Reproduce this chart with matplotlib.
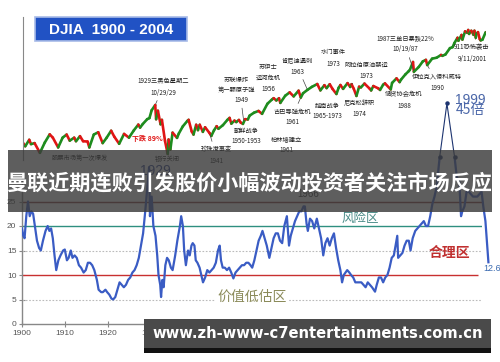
import numpy as np
import matplotlib
matplotlib.use("Agg")
import matplotlib.pyplot as plt
from matplotlib.collections import LineCollection
from matplotlib.patches import Rectangle

plt.rcParams['font.family'] = ['Noto Sans CJK SC', 'DejaVu Sans']

W, H = 500, 362

# DJIA price path (approx. swing highs / lows)
dj_years = [1900.0, 1900.5, 1901.4, 1901.8, 1902.6, 1903.8, 1904.9, 1906.0, 1906.7, 1907.9,
            1908.9, 1909.8, 1910.5, 1911.5, 1911.9, 1912.8, 1913.5, 1914.5, 1914.9, 1915.9,
            1916.9, 1917.9, 1918.8, 1919.8, 1920.5, 1921.6, 1922.7, 1923.8, 1924.9, 1925.9,
            1926.3, 1926.9, 1927.9, 1928.4, 1928.9, 1929.7, 1929.9, 1930.3, 1930.9, 1931.2,
            1931.9, 1932.5, 1932.7, 1933.1, 1933.6, 1934.6, 1935.0, 1935.9, 1936.9, 1937.2,
            1937.9, 1938.3, 1938.9, 1939.3, 1939.7, 1940.4, 1940.9, 1941.9, 1942.3, 1942.9,
            1943.5, 1943.9, 1944.9, 1945.9, 1946.4, 1946.8, 1947.5, 1947.9, 1948.5, 1948.9,
            1949.4, 1949.9, 1950.5, 1950.9, 1951.9, 1952.9, 1953.7, 1954.9, 1955.9, 1956.3,
            1956.9, 1957.5, 1957.8, 1958.9, 1959.9, 1960.8, 1961.9, 1962.4, 1962.9, 1963.9,
            1964.9, 1966.1, 1966.8, 1967.7, 1968.2, 1968.9, 1969.5, 1970.4, 1970.9, 1971.3,
            1971.9, 1972.9, 1973.5, 1973.8, 1974.3, 1974.9, 1975.5, 1975.9, 1976.7, 1977.9,
            1978.2, 1978.7, 1979.8, 1980.2, 1980.9, 1981.3, 1982.6, 1982.9, 1983.9, 1984.6,
            1984.9, 1985.9, 1986.6, 1986.9, 1987.6, 1987.8, 1988.9, 1989.8, 1990.5, 1990.8,
            1991.9, 1992.9, 1993.9, 1994.2, 1994.9, 1995.9, 1996.5, 1996.9, 1997.6, 1997.8,
            1998.5, 1998.7, 1999.3, 1999.8, 2000.0, 2000.2, 2000.7, 2001.2, 2001.4, 2001.7,
            2001.9, 2002.2, 2002.6, 2002.8, 2003.2, 2003.9, 2004.2, 2004.6, 2004.99]
dj_values = [68, 58, 78, 64, 67, 43, 69, 100, 86, 55,
             86, 99, 75, 86, 73, 92, 73, 72, 55, 99,
             110, 67, 86, 118, 90, 65, 102, 86, 120, 156,
             136, 160, 200, 210, 300, 381, 199, 294, 158, 194,
             74, 41, 79, 50, 108, 85, 104, 144, 184, 194,
             114, 99, 155, 121, 155, 112, 138, 106, 93, 120,
             145, 129, 152, 193, 212, 163, 187, 175, 193, 171,
             161, 200, 197, 235, 269, 291, 255, 404, 488, 521,
             470, 520, 420, 583, 679, 566, 734, 536, 652, 762,
             874, 995, 744, 943, 825, 985, 801, 631, 838, 950,
             797, 1036, 870, 987, 800, 577, 881, 852, 1014, 800,
             742, 907, 815, 759, 964, 1024, 777, 1046, 1287, 1086,
             1211, 1546, 1775, 1896, 2722, 1738, 2168, 2791, 2999, 2365,
             3168, 3301, 3754, 3600, 3834, 5117, 5350, 6448, 8222, 7161,
             9337, 7539, 11000, 10300, 11723, 9796, 11310, 9389, 11337, 8235,
             10021, 10635, 7702, 7286, 7524, 10453, 10737, 9749, 10783]

# price / earnings ratio, before and after the 1999 spike
pe_years = [1900.0, 1900.3, 1900.6, 1901.0, 1901.4, 1901.8, 1902.2, 1902.6, 1903.0, 1903.5,
            1904.0, 1904.4, 1904.9, 1905.5, 1906.0, 1906.4, 1906.8, 1907.2, 1907.6, 1908.0,
            1908.5, 1909.0, 1909.6, 1910.0, 1910.5, 1910.9, 1911.4, 1911.8, 1912.3, 1912.8,
            1913.3, 1913.8, 1914.4, 1914.9, 1915.4, 1915.9, 1916.4, 1916.9, 1917.5, 1917.9,
            1918.5, 1918.9, 1919.5, 1919.9, 1920.4, 1920.9, 1921.3, 1921.8, 1922.3, 1922.8,
            1923.3, 1923.8, 1924.3, 1924.8, 1925.3, 1925.8, 1926.3, 1926.8, 1927.3, 1927.8,
            1928.3, 1928.8, 1929.3, 1929.7, 1929.9, 1930.3, 1930.7, 1931.2, 1931.6, 1931.9,
            1932.3, 1932.5, 1932.8, 1933.1, 1933.5, 1933.9, 1934.3, 1934.8, 1935.2, 1935.8,
            1936.3, 1936.9, 1937.2, 1937.6, 1937.9, 1938.3, 1938.8, 1939.2, 1939.6, 1939.9,
            1940.3, 1940.6, 1941.0, 1941.5, 1941.9, 1942.3, 1942.8, 1943.3, 1943.8, 1944.3,
            1944.8, 1945.3, 1945.8, 1946.2, 1946.5, 1946.9, 1947.4, 1947.9, 1948.4, 1948.9,
            1949.4, 1949.9, 1950.4, 1950.9, 1951.4, 1951.9, 1952.4, 1952.9, 1953.4, 1953.8,
            1954.3, 1954.8, 1955.3, 1955.8, 1956.2, 1956.7, 1957.2, 1957.8, 1958.3, 1958.8,
            1959.3, 1959.8, 1960.3, 1960.8, 1961.3, 1961.9, 1962.4, 1962.8, 1963.3, 1963.8,
            1964.3, 1964.8, 1965.3, 1965.8, 1966.1, 1966.5, 1966.8, 1967.3, 1967.8, 1968.3,
            1968.9, 1969.4, 1969.9, 1970.4, 1970.9, 1971.4, 1971.9, 1972.4, 1972.9, 1973.4,
            1973.9, 1974.4, 1974.8, 1975.2, 1975.6, 1976.0, 1976.5, 1976.9, 1977.4, 1977.9,
            1978.4, 1978.8, 1979.3, 1979.8, 1980.3, 1980.8, 1981.3, 1981.8, 1982.5, 1982.9,
            1983.4, 1983.9, 1984.4, 1984.9, 1985.4, 1985.9, 1986.4, 1986.9, 1987.3, 1987.7,
            1987.9, 1988.4, 1988.9, 1989.4, 1989.9, 1990.4, 1990.8, 1991.3, 1991.9, 1992.4,
            1992.9, 1993.4, 1993.9, 1994.4, 1994.9, 1995.4, 1995.9, 1996.4, 1996.9, 1997.6]
pe_values = [19.5, 18, 17.5, 22, 25, 22, 23, 22.5, 20, 17,
             15.5, 15, 17, 19, 20, 19, 19.5, 17.5, 14, 11,
             13, 14, 15, 15.2, 13, 13.5, 15, 13.5, 14, 13.5,
             12, 11.5, 10.5, 11, 12.5, 12.5, 12, 11, 9, 7,
             6.5, 6.5, 7, 6.5, 6, 5.2, 5, 5.5, 7, 8.5,
             8, 7.5, 8, 9, 9.5, 10.5, 11, 12, 13.5, 16,
             18.5, 23, 28, 32, 22, 26, 20, 18, 14, 10,
             8, 5.5, 9, 7.5, 12, 13.5, 13, 11.5, 11, 14,
             17, 20, 22, 20, 15, 12, 15, 14, 16, 16.5,
             16, 13, 12.5, 11.5, 10, 8.5, 9.5, 11, 10.5, 11,
             11.5, 12.5, 15, 16, 13, 11.5, 11.5, 11, 11.5, 10.5,
             9.3, 10.5, 11, 11.5, 12, 12, 12.5, 12.5, 12, 11.5,
             13, 15, 17, 18, 19, 17.5, 16, 13.5, 15.5, 17.5,
             18.5, 18.5, 17, 16.5, 20, 22, 16, 18, 19.5, 21,
             22, 23, 23, 24, 24, 20.5, 19, 21.5, 21, 19.5,
             21.5, 19.5, 17.5, 14, 16.5, 17.5, 16, 17.5, 18.5, 15.5,
             13, 11, 8.5, 10, 10.5, 11, 10.5, 10, 9.5, 8.5,
             8.5, 8.5, 8.5, 8, 7.5, 8.5, 8, 7.5, 6.6, 8,
             9.5, 9.5, 8.5, 9.5, 10, 11.5, 13.5, 14, 16, 18,
             13.5, 14, 14.5, 16, 17, 17, 15, 17.5, 19, 19.5,
             20, 20.5, 21, 20, 20, 22, 24.5, 26, 28, 34]
pe_late_years = [2001.1, 2001.6, 2002.2, 2002.6, 2002.9, 2003.4, 2003.9, 2004.4, 2004.9,
                 2005.4, 2005.9, 2006.4, 2006.9, 2007.4, 2007.8, 2008.3, 2008.8, 2009.0]
pe_late_values = [34, 30, 29, 22, 23, 24, 27, 27, 26.5,
                  26, 26, 26, 26.5, 27, 24, 21, 15, 12.6]

spike_years = [1997.6, 1999.3, 2001.1]
spike_values = [34, 45, 34]

decade_ticks = [1900, 1910, 1920, 1930, 1940, 1950, 1960, 1970, 1980, 1990, 2000]
decade_labels = ["1900", "1910", "1920", "1930", "", "", "", "", "", "", ""]
pe_yticks = [0, 5, 10, 15, 20, 25]

title = "曼联近期连败引发股价小幅波动投资者关注市场反应"
url = "www.zh-www-c7entertainments.com.cn"


def fx(x):
    return x / W


def fy(y):
    return 1 - y / H


fig = plt.figure(figsize=(5, 3.62), dpi=100)
fig.patch.set_facecolor("white")

# --- lower panel: P/E ratio ---
ax = fig.add_axes([fx(22), fy(324), fx(482) - fx(22), fy(93.7) - fy(324)])
ax.patch.set_alpha(0)
ax.set_xlim(1900, 2007.5)
ax.set_ylim(0, 47)
for s in ["top", "right"]:
    ax.spines[s].set_visible(False)
ax.spines["left"].set_bounds(0, 30)
for s in ["left", "bottom"]:
    ax.spines[s].set_color("#888888")
    ax.spines[s].set_linewidth(1.0)
ax.set_xticks(decade_ticks)
ax.set_xticklabels(decade_labels)
ax.set_yticks(pe_yticks)
ax.tick_params(direction="inout", length=4, width=0.8, color="#888888",
               labelsize=6, labelcolor="#555555", pad=2)
for lab in ax.get_xticklabels() + ax.get_yticklabels():
    lab.set_family("Liberation Sans")

ax.hlines(25, 1900, 2007.5, color="#8b3a3a", lw=1.0)
ax.hlines(20, 1900, 2007.5, color="#2f8f80", lw=1.0)
ax.hlines(10, 1900, 2006.5, color="#c83030", lw=1.0)
ax.hlines([15, 5], 1900, 2007.5, color="#bbbbbb", lw=0.8, linestyles=(0, (1.5, 1.5)))

ax.plot(pe_years, pe_values, color="#3a5cc4", lw=1.6, zorder=3)
ax.plot(pe_late_years, pe_late_values, color="#3a5cc4", lw=1.6, clip_on=False, zorder=3)
ax.plot(spike_years, spike_values, color="#1d3470", lw=0.8, marker="o", ms=2.2, zorder=4)

ax.text(1979, 21.6, "风险区", color="#4a8c88", fontsize=9, ha="center", va="center")
ax.text(2000, 14.5, "合理区", color="#c03030", fontsize=10, ha="center", va="center",
        fontweight="bold")
ax.text(1953.8, 5.5, "价值低估区", color="#8b8b5a", fontsize=10, ha="center", va="center",
        bbox=dict(facecolor="white", edgecolor="none", pad=1.5))
ax.text(2001.3, 45.7, "1999", color="#4a66a8", fontsize=10, ha="left", va="center",
        family="Liberation Sans")
ax.text(2001.3, 43.6, "45倍", color="#4a66a8", fontsize=10, ha="left", va="center")
ax.text(2007.7, 11.4, "12.6", color="#3a6ab0", fontsize=6.5, ha="left", va="center",
        family="Liberation Sans")
ax.text(1927.5, 30.5, "1929", color="#2a3f8f", fontsize=10, family="Liberation Sans")
ax.text(1966.8, 26.5, "1966", color="#333333", fontsize=7, ha="center", va="center",
        family="Liberation Sans")

# --- upper panel: DJIA log chart ---
ax2 = fig.add_axes([fx(23), fy(160), fx(486) - fx(23), fy(17) - fy(160)])
ax2.patch.set_alpha(0)
ax2.set_yscale("log")
ax2.set_xlim(1900, 2004)
ax2.set_ylim(31, 21200)
for s in ["top", "right", "bottom"]:
    ax2.spines[s].set_visible(False)
ax2.spines["left"].set_color("#888888")
ax2.set_xticks([])
ax2.set_yticks([])
ax2.minorticks_off()

pts = np.column_stack([dj_years, dj_values])
segs = np.stack([pts[:-1], pts[1:]], axis=1)
up = np.diff(dj_values) >= 0
cols = np.where(up, "#1e8c1e", "#e01515")
lc = LineCollection(segs, colors=cols, linewidths=1.9, capstyle="round")
ax2.add_collection(lc)

log_dj = np.log10(dj_values)


def dj_at(year):
    return 10 ** np.interp(year, dj_years, log_dj)


events = [
    ("1929三黑色星期二\n10/29/29", 163, 87, 1929.7),
    ("苏联爆炸\n第一颗原子弹", 236, 85, None),
    ("1949", 241, 100, 1949.6),
    ("朝鲜战争\n1950-1953", 246, 136, None),
    ("珍珠港事变\n1941", 216, 155, 1941.9),
    ("苏伊士\n运河危机\n1956", 268, 78, None),
    ("肯尼迪遇刺\n1963", 297, 66, 1963.9),
    ("水门事件\n1973", 333, 58, None),
    ("阿拉伯原油禁运\n1973", 366, 70, 1973.8),
    ("古巴导弹危机\n1961", 292, 117, 1962.4),
    ("越南战争\n1965-1973", 327, 111, None),
    ("柏林墙建立\n1961", 286, 145, None),
    ("尼克松辞职\n1974", 359, 108, 1974.6),
    ("储贷协会危机\n1988", 404, 100, None),
    ("1987三单日暴跌22%\n10/19/87", 405, 44, 1987.8),
    ("伊拉克入侵科威特\n1990", 437, 82, 1990.8),
    ("911恐怖袭击\n9/11/2001", 472, 53, 2001.7),
]
for txt, x, y, yr in events:
    kw = dict(textcoords="figure fraction", fontsize=4.5, color="#222222",
              ha="center", va="center", linespacing=1.5)
    if yr is None:
        ax2.annotate(txt, xy=(fx(x), fy(y)), xycoords="figure fraction",
                     xytext=(fx(x), fy(y)), **kw)
    else:
        ax2.annotate(txt, xy=(yr, dj_at(yr)), xycoords="data", xytext=(fx(x), fy(y)),
                     arrowprops=dict(arrowstyle="-", lw=0.5, color="#444444",
                                     shrinkA=1, shrinkB=1), **kw)

fig.text(fx(147), fy(138), "下跌 89%", color="#e01515", fontsize=5, fontweight="bold",
         ha="center", va="center")
fig.text(fx(80), fy(158), "股票市场第一次爆发", color="#222222", fontsize=4.5,
         ha="center", va="center")
fig.text(fx(167), fy(159), "银行关闭", color="#222222", fontsize=4.5,
         ha="center", va="center")

# DJIA title box
fig.add_artist(Rectangle((fx(35), fy(41)), fx(187) - fx(35), (41 - 17) / H,
                         transform=fig.transFigure, facecolor="#2152c4",
                         edgecolor="#a8bbe8", lw=1.2, zorder=5))
fig.text(fx(111), fy(29.5), "DJIA  1900 - 2004", color="white", fontsize=11,
         fontweight="bold", family="Liberation Sans", ha="center", va="center", zorder=6)

# overlay banners
fig.add_artist(Rectangle((fx(8), fy(212)), fx(492) - fx(8), (212 - 150) / H,
                         transform=fig.transFigure, facecolor="#3a3a3a", alpha=0.82,
                         edgecolor="none", zorder=10))
fig.text(0.5, fy(183), title, color="white", fontsize=15.2, fontweight="bold",
         ha="center", va="center", zorder=11)

fig.add_artist(Rectangle((fx(144), fy(348)), fx(491) - fx(144), (348 - 319) / H,
                         transform=fig.transFigure, facecolor="#4a4a4a",
                         edgecolor="none", zorder=10))
fig.add_artist(Rectangle((fx(144), fy(353)), fx(491) - fx(144), (353 - 348) / H,
                         transform=fig.transFigure, facecolor="#111111",
                         edgecolor="none", zorder=10))
fig.text(fx(317.5), fy(334), url, color="white", fontsize=10.6, fontweight="bold",
         family="DejaVu Sans", ha="center", va="center", zorder=11)

fig.savefig("out.png", dpi=100, facecolor="white")
